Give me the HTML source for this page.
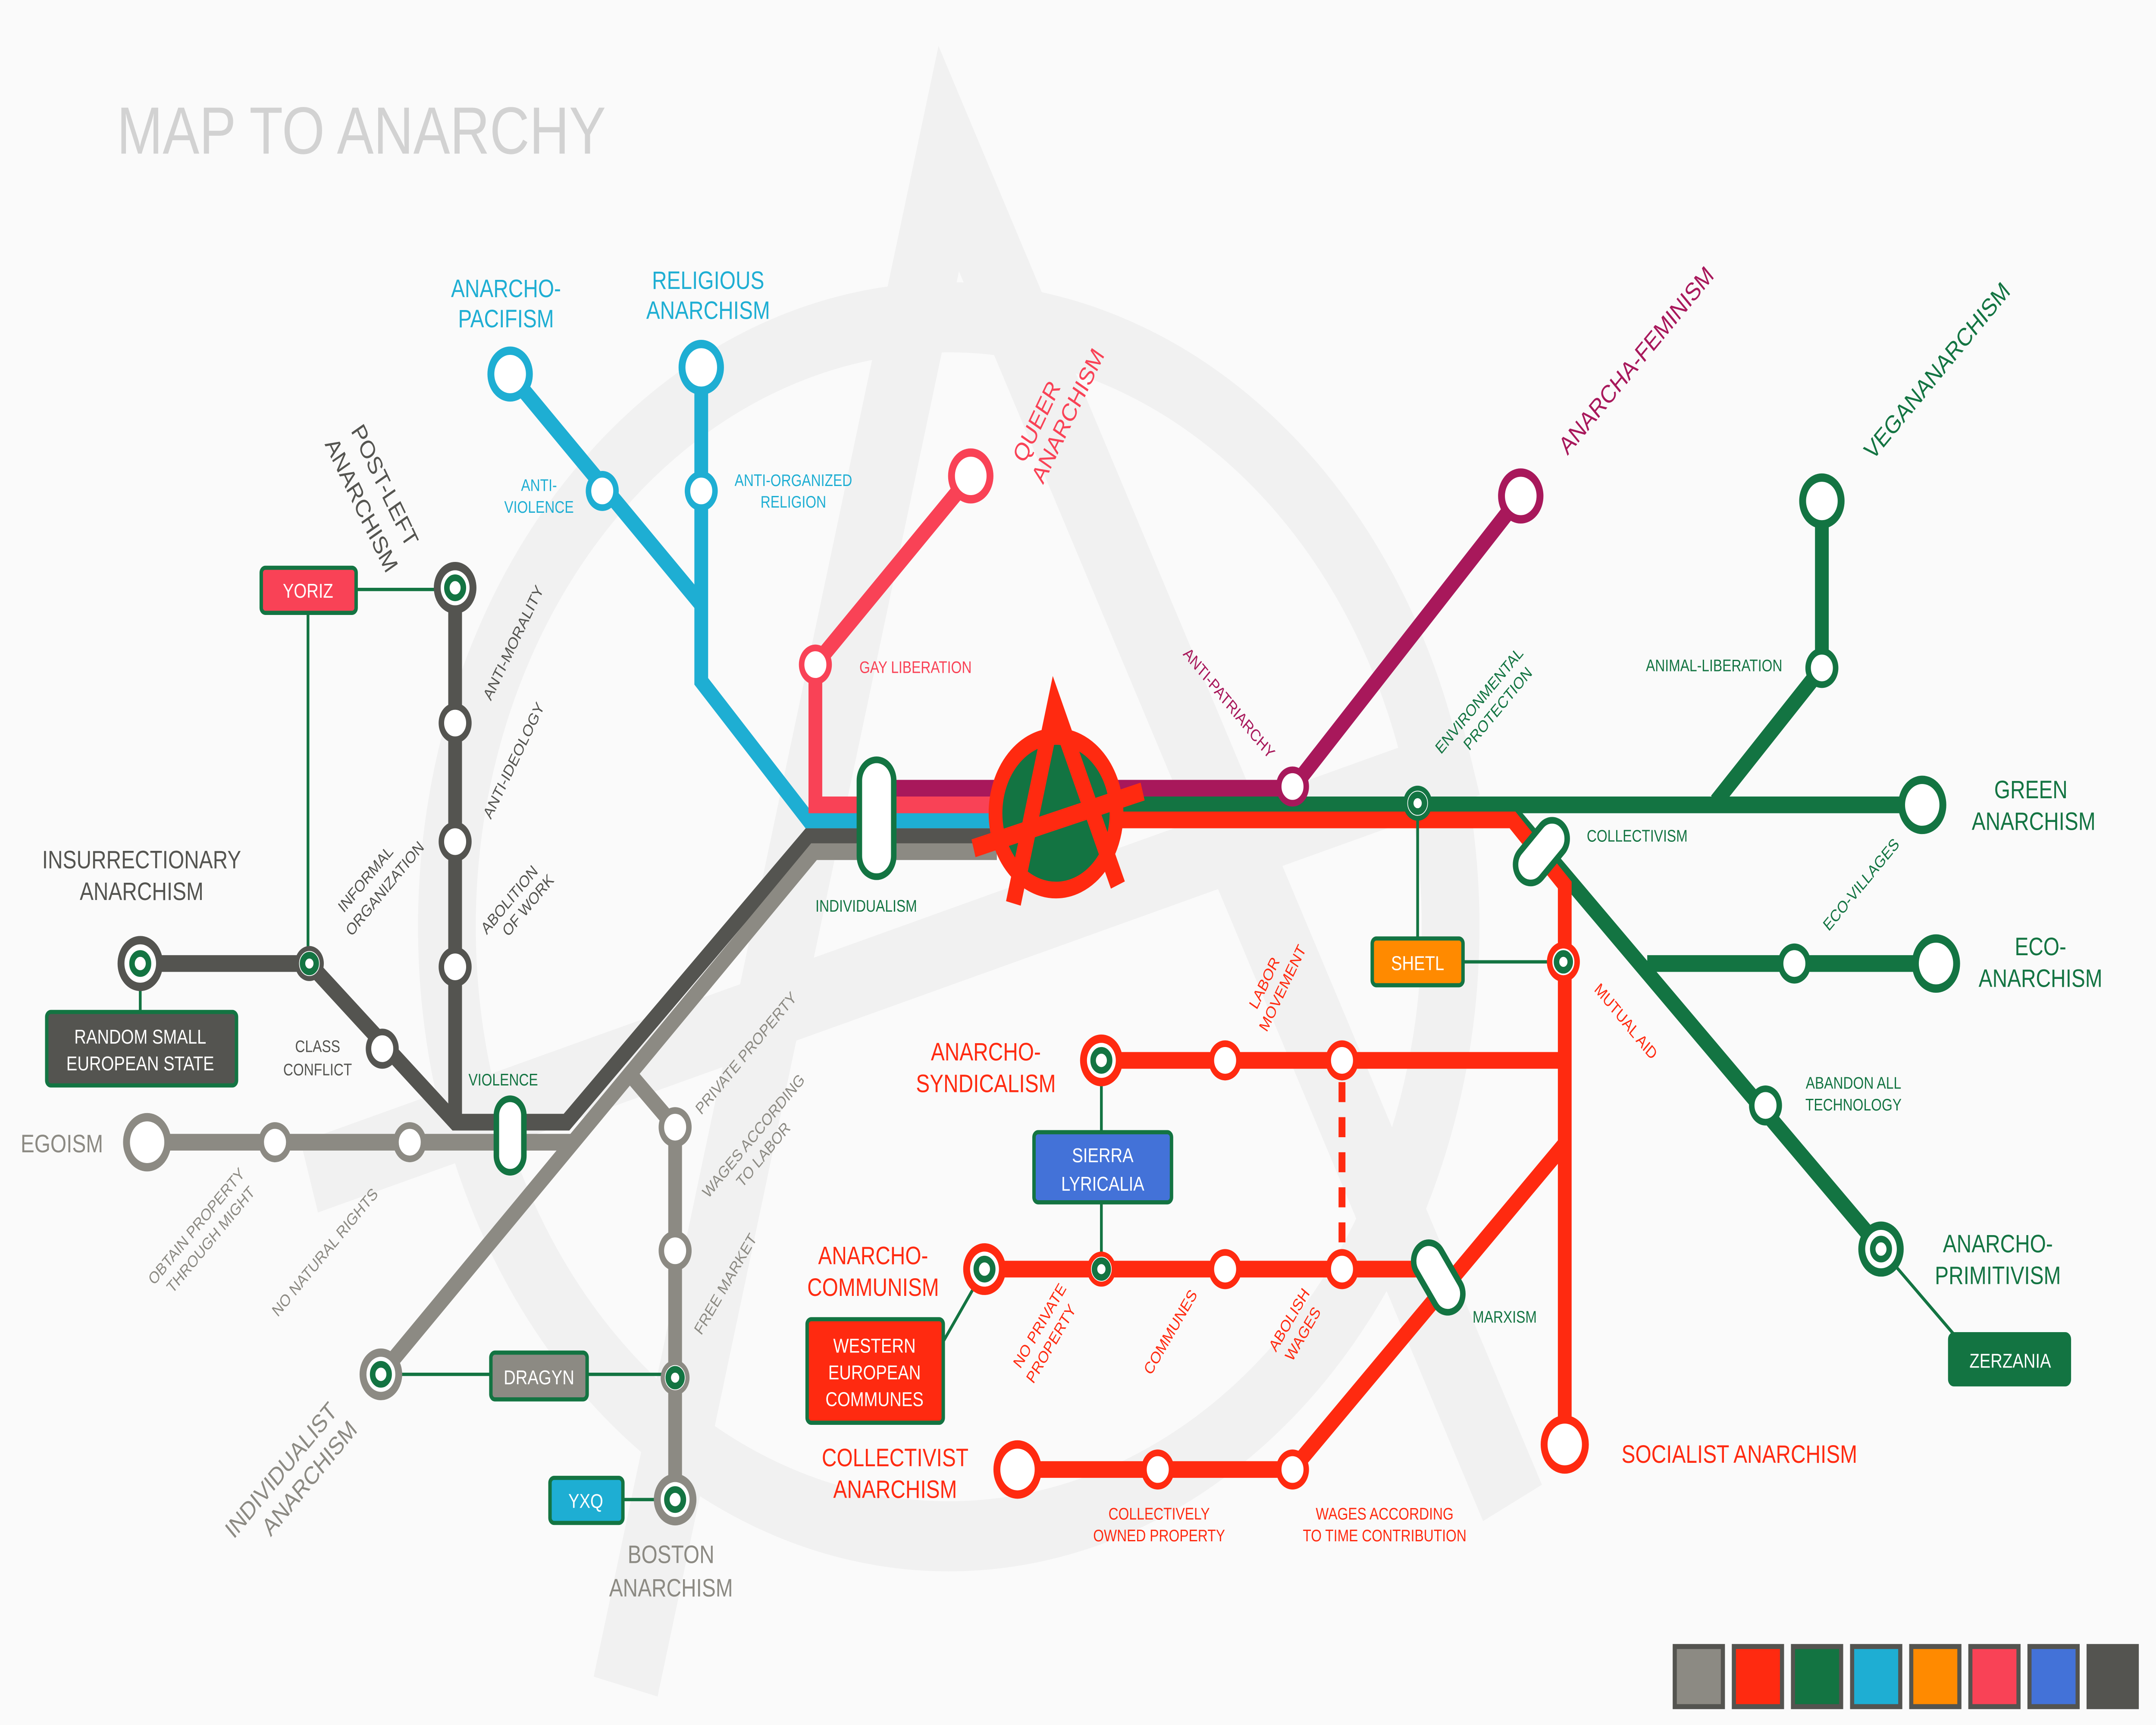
<!DOCTYPE html>
<html><head><meta charset="utf-8"><style>
html,body{margin:0;padding:0;background:#fafafa;width:100%;height:100%;overflow:hidden;}
svg{display:block;width:100vw;height:100vh;}
text{font-family:"Liberation Sans",sans-serif;}
</style></head><body>
<svg viewBox="0 0 1568 1033" preserveAspectRatio="none" xmlns="http://www.w3.org/2000/svg">
<rect width="1568" height="1033" fill="#fafafa"/>
<g fill="none" stroke="#f1f1f1">
<circle cx="690" cy="555" r="365" stroke-width="42"/>
<polyline points="455,1010 690,95 1100,900" stroke-width="48" stroke-linejoin="miter"/>
<line x1="225" y1="705" x2="1070" y2="455" stroke-width="44"/>
</g>
<text x="85" y="92" font-size="40" fill="#d2d2d2">MAP TO ANARCHY</text>

<g fill="none" stroke-width="10" stroke-linejoin="miter">
<polyline points="371,224 510,362" stroke="#1eaed3"/>
<polyline points="510,220 510,408 588,491 725,491" stroke="#1eaed3"/>
<polyline points="706,285 593,398 593,482 725,482" stroke="#f94256"/>
<polyline points="650,472 940,472 1106,297" stroke="#a8185b"/>
<polyline points="331,352 331,672" stroke="#545450"/>
<polyline points="102,577 225,577 331,672 412,672 588,501 725,501" stroke="#545450"/>
<polyline points="107,684 415,684" stroke="#8c8a83"/>
<polyline points="277,823 592,510 725,510" stroke="#8c8a83"/>
<polyline points="460,645 491,675 491,898" stroke="#8c8a83"/>
<polyline points="815,482 1400,482" stroke="#137442"/>
<polyline points="1325,300 1325,400 1248,480" stroke="#137442"/>
<polyline points="1095,482 1368,748" stroke="#137442"/>
<polyline points="1198,577 1408,577" stroke="#137442"/>
<polyline points="815,491 1100,491 1138,530 1138,865" stroke="#ff2a10"/>
<polyline points="800,635 1138,635" stroke="#ff2a10"/>
<polyline points="715,760 1045,760" stroke="#ff2a10"/>
<polyline points="740,880 940,880 1138,685" stroke="#ff2a10"/>
<line x1="976" y1="648" x2="976" y2="750" stroke="#ff2a10" stroke-width="5" stroke-dasharray="12,9"/>
</g>

<g stroke="#137442" stroke-width="2" fill="none">
<line x1="259" y1="353" x2="331" y2="353"/>
<line x1="224" y1="367" x2="224" y2="577"/>
<line x1="102" y1="577" x2="102" y2="606"/>
<line x1="277" y1="823" x2="491" y2="823"/>
<line x1="453" y1="898" x2="491" y2="898"/>
<line x1="801" y1="635" x2="801" y2="760"/>
<line x1="716" y1="760" x2="680" y2="812"/>
<line x1="1031" y1="482" x2="1031" y2="562"/>
<line x1="1064" y1="576" x2="1137" y2="576"/>
<line x1="1368" y1="748" x2="1422" y2="800"/>
</g>

<g fill="#fff" stroke="#137442" stroke-width="4">
<rect x="625" y="455" width="25" height="70" rx="12.5"/>
<rect x="361" y="658" width="20" height="44" rx="10"/>
<rect x="1110" y="488" width="22" height="44" rx="11" transform="rotate(45 1121 510)"/>
<rect x="1035" y="742" width="22" height="46" rx="11" transform="rotate(-35 1046 765)"/>
</g>

<g>
<ellipse cx="768" cy="487" rx="44" ry="46" fill="#137442" stroke="#ff2a10" stroke-width="10"/>
<polyline points="737,541 767,422 813,530" fill="none" stroke="#ff2a10" stroke-width="11"/>
<line x1="708" y1="508" x2="831" y2="474" stroke="#ff2a10" stroke-width="11"/>
</g>

<g fill="#fff" stroke-width="5">
<circle cx="371" cy="224" r="14" stroke="#1eaed3"/>
<circle cx="510" cy="220" r="14" stroke="#1eaed3"/>
<circle cx="706" cy="285" r="14" stroke="#f94256"/>
<circle cx="1106" cy="297" r="14" stroke="#a8185b"/>
<circle cx="1325" cy="300" r="14" stroke="#137442"/>
<circle cx="1398" cy="482" r="15" stroke="#137442"/>
<circle cx="1408" cy="577" r="15" stroke="#137442"/>
<circle cx="1138" cy="865" r="15" stroke="#ff2a10"/>
<circle cx="740" cy="880" r="15" stroke="#ff2a10"/>
<circle cx="107" cy="684" r="15" stroke="#8c8a83"/>
</g>
<g fill="#fff" stroke-width="4">
<circle cx="438" cy="294" r="10" stroke="#1eaed3"/>
<circle cx="510" cy="294" r="10" stroke="#1eaed3"/>
<circle cx="593" cy="398" r="10" stroke="#f94256"/>
<circle cx="940" cy="471" r="10" stroke="#a8185b"/>
<circle cx="1325" cy="400" r="10" stroke="#137442"/>
<circle cx="1305" cy="577" r="10" stroke="#137442"/>
<circle cx="1284" cy="662" r="10" stroke="#137442"/>
<circle cx="891" cy="635" r="10" stroke="#ff2a10"/>
<circle cx="976" cy="635" r="10" stroke="#ff2a10"/>
<circle cx="891" cy="760" r="10" stroke="#ff2a10"/>
<circle cx="976" cy="760" r="10" stroke="#ff2a10"/>
<circle cx="842" cy="880" r="10" stroke="#ff2a10"/>
<circle cx="940" cy="880" r="10" stroke="#ff2a10"/>
<circle cx="331" cy="433" r="10" stroke="#545450"/>
<circle cx="331" cy="504" r="10" stroke="#545450"/>
<circle cx="331" cy="579" r="10" stroke="#545450"/>
<circle cx="278" cy="628" r="10" stroke="#545450"/>
<circle cx="200" cy="684" r="10" stroke="#8c8a83"/>
<circle cx="298" cy="684" r="10" stroke="#8c8a83"/>
<circle cx="491" cy="675" r="10" stroke="#8c8a83"/>
<circle cx="491" cy="749" r="10" stroke="#8c8a83"/>
</g>
<g fill="#fff">
<circle cx="331" cy="352" r="13" stroke="#545450" stroke-width="5"/><circle cx="331" cy="352" r="6" stroke="#137442" stroke-width="4"/>
<circle cx="102" cy="577" r="14" stroke="#545450" stroke-width="5"/><circle cx="102" cy="577" r="6" stroke="#137442" stroke-width="4"/>
<circle cx="225" cy="577" r="9" stroke="#545450" stroke-width="3"/><circle cx="225" cy="577" r="5" stroke="#137442" stroke-width="4"/>
<circle cx="801" cy="635" r="13" stroke="#ff2a10" stroke-width="5"/><circle cx="801" cy="635" r="6" stroke="#137442" stroke-width="4"/>
<circle cx="801" cy="760" r="9" stroke="#ff2a10" stroke-width="3"/><circle cx="801" cy="760" r="5" stroke="#137442" stroke-width="4"/>
<circle cx="716" cy="760" r="13" stroke="#ff2a10" stroke-width="5"/><circle cx="716" cy="760" r="6" stroke="#137442" stroke-width="4"/>
<circle cx="1031" cy="481" r="9" stroke="#137442" stroke-width="3"/><circle cx="1031" cy="481" r="5" stroke="#137442" stroke-width="4"/>
<circle cx="1137" cy="576" r="10" stroke="#ff2a10" stroke-width="4"/><circle cx="1137" cy="576" r="5" stroke="#137442" stroke-width="4"/>
<circle cx="1368" cy="748" r="14" stroke="#137442" stroke-width="5"/><circle cx="1368" cy="748" r="6" stroke="#137442" stroke-width="4"/>
<circle cx="277" cy="823" r="13" stroke="#8c8a83" stroke-width="5"/><circle cx="277" cy="823" r="6" stroke="#137442" stroke-width="4"/>
<circle cx="491" cy="825" r="9" stroke="#8c8a83" stroke-width="3"/><circle cx="491" cy="825" r="5" stroke="#137442" stroke-width="4"/>
<circle cx="491" cy="898" r="13" stroke="#8c8a83" stroke-width="5"/><circle cx="491" cy="898" r="6" stroke="#137442" stroke-width="4"/>
</g>

<g stroke="#137442" stroke-width="2.5">
<rect x="190" y="340" width="69" height="27" rx="3" fill="#f94256"/>
<rect x="34" y="606" width="138" height="44" rx="3" fill="#545450"/>
<rect x="357" y="810" width="70" height="28" rx="3" fill="#8c8a83"/>
<rect x="400" y="885" width="53" height="27" rx="3" fill="#1eaed3"/>
<rect x="752" y="678" width="100" height="42" rx="3" fill="#4372d8"/>
<rect x="587" y="790" width="99" height="62" rx="3" fill="#ff2a10"/>
<rect x="998" y="562" width="66" height="28" rx="3" fill="#ff8a00"/>
<rect x="1418" y="799" width="87" height="30" rx="3" fill="#137442"/>
</g>
<g fill="#fff" font-size="12" text-anchor="middle">
<text x="224" y="358">YORIZ</text>
<text x="102" y="625">RANDOM SMALL</text><text x="102" y="641">EUROPEAN STATE</text>
<text x="392" y="829">DRAGYN</text>
<text x="426" y="903">YXQ</text>
<text x="802" y="696">SIERRA</text><text x="802" y="713">LYRICALIA</text>
<text x="636" y="810">WESTERN</text><text x="636" y="826">EUROPEAN</text><text x="636" y="842">COMMUNES</text>
<text x="1031" y="581">SHETL</text>
<text x="1462" y="819">ZERZANIA</text>
</g>

<g font-size="15" text-anchor="middle">
<text x="368" y="178" fill="#1eaed3">ANARCHO-</text><text x="368" y="196" fill="#1eaed3">PACIFISM</text>
<text x="515" y="173" fill="#1eaed3">RELIGIOUS</text><text x="515" y="191" fill="#1eaed3">ANARCHISM</text>
<text x="103" y="520" fill="#545450">INSURRECTIONARY</text><text x="103" y="539" fill="#545450">ANARCHISM</text>
<text x="45" y="690" fill="#8c8a83">EGOISM</text>
<text x="488" y="936" fill="#8c8a83">BOSTON</text><text x="488" y="956" fill="#8c8a83">ANARCHISM</text>
<text x="717" y="635" fill="#ff2a10">ANARCHO-</text><text x="717" y="654" fill="#ff2a10">SYNDICALISM</text>
<text x="635" y="757" fill="#ff2a10">ANARCHO-</text><text x="635" y="776" fill="#ff2a10">COMMUNISM</text>
<text x="651" y="878" fill="#ff2a10">COLLECTIVIST</text><text x="651" y="897" fill="#ff2a10">ANARCHISM</text>
<text x="1265" y="876" fill="#ff2a10">SOCIALIST ANARCHISM</text>
<text x="1477" y="478" fill="#137442">GREEN</text><text x="1479" y="497" fill="#137442">ANARCHISM</text>
<text x="1484" y="572" fill="#137442">ECO-</text><text x="1484" y="591" fill="#137442">ANARCHISM</text>
<text x="1453" y="750" fill="#137442">ANARCHO-</text><text x="1453" y="769" fill="#137442">PRIMITIVISM</text>
</g>
<g font-size="15">
<text transform="translate(255,258) rotate(60)" fill="#545450">POST-LEFT</text>
<text transform="translate(236,266) rotate(60)" fill="#545450">ANARCHISM</text>
<text transform="translate(745,278) rotate(-60)" fill="#f94256">QUEER</text>
<text transform="translate(745,278) rotate(-60) translate(-4,18)" fill="#f94256">ANARCHISM</text>
<text transform="translate(1140,273) rotate(-45)" fill="#a8185b">ANARCHA-FEMINISM</text>
<text transform="translate(1362,276) rotate(-45)" fill="#137442">VEGANANARCHISM</text>
<text transform="translate(170,922) rotate(-45)" fill="#8c8a83">INDIVIDUALIST</text>
<text transform="translate(170,922) rotate(-45) translate(20,18)" fill="#8c8a83">ANARCHISM</text>
</g>

<g font-size="10">
<text x="392" y="294" fill="#1eaed3" text-anchor="middle">ANTI-</text><text x="392" y="307" fill="#1eaed3" text-anchor="middle">VIOLENCE</text>
<text x="577" y="291" fill="#1eaed3" text-anchor="middle">ANTI-ORGANIZED</text><text x="577" y="304" fill="#1eaed3" text-anchor="middle">RELIGION</text>
<text x="625" y="403" fill="#f94256">GAY LIBERATION</text>
<text transform="translate(860,392) rotate(45)" fill="#a8185b">ANTI-PATRIARCHY</text>
<text transform="translate(1048,452) rotate(-45)" fill="#137442">ENVIRONMENTAL</text>
<text transform="translate(1048,452) rotate(-45) translate(16,13)" fill="#137442">PROTECTION</text>
<text x="1197" y="402" fill="#137442">ANIMAL-LIBERATION</text>
<text x="1154" y="504" fill="#137442">COLLECTIVISM</text>
<text transform="translate(1330,558) rotate(-45)" fill="#137442">ECO-VILLAGES</text>
<text x="1348" y="652" fill="#137442" text-anchor="middle">ABANDON ALL</text><text x="1348" y="665" fill="#137442" text-anchor="middle">TECHNOLOGY</text>
<text x="1071" y="792" fill="#137442">MARXISM</text>
<text transform="translate(1159,593) rotate(45)" fill="#ff2a10">MUTUAL AID</text>
<text transform="translate(914,605) rotate(-60)" fill="#ff2a10">LABOR</text>
<text transform="translate(914,605) rotate(-60) translate(-8,13)" fill="#ff2a10">MOVEMENT</text>
<text transform="translate(742,820) rotate(-55)" fill="#ff2a10">NO PRIVATE</text>
<text transform="translate(742,820) rotate(-55) translate(-2,13)" fill="#ff2a10">PROPERTY</text>
<text transform="translate(837,824) rotate(-55)" fill="#ff2a10">COMMUNES</text>
<text transform="translate(928,810) rotate(-55)" fill="#ff2a10">ABOLISH</text>
<text transform="translate(928,810) rotate(-55) translate(2,13)" fill="#ff2a10">WAGES</text>
<text x="843" y="910" fill="#ff2a10" text-anchor="middle">COLLECTIVELY</text><text x="843" y="923" fill="#ff2a10" text-anchor="middle">OWNED PROPERTY</text>
<text x="1007" y="910" fill="#ff2a10" text-anchor="middle">WAGES ACCORDING</text><text x="1007" y="923" fill="#ff2a10" text-anchor="middle">TO TIME CONTRIBUTION</text>
<text x="630" y="546" fill="#137442" text-anchor="middle">INDIVIDUALISM</text>
<text x="366" y="650" fill="#137442" text-anchor="middle">VIOLENCE</text>
<text x="231" y="630" fill="#545450" text-anchor="middle">CLASS</text><text x="231" y="644" fill="#545450" text-anchor="middle">CONFLICT</text>
<text transform="translate(357,420) rotate(-60)" fill="#545450">ANTI-MORALITY</text>
<text transform="translate(357,491) rotate(-60)" fill="#545450">ANTI-IDEOLOGY</text>
<text transform="translate(354,560) rotate(-45)" fill="#545450">ABOLITION</text>
<text transform="translate(354,560) rotate(-45) translate(10,12)" fill="#545450">OF WORK</text>
<text transform="translate(250,547) rotate(-45)" fill="#545450">INFORMAL</text>
<text transform="translate(250,547) rotate(-45) translate(-6,14)" fill="#545450">ORGANIZATION</text>
<text transform="translate(510,668) rotate(-45)" fill="#8c8a83">PRIVATE PROPERTY</text>
<text transform="translate(515,718) rotate(-45)" fill="#8c8a83">WAGES ACCORDING</text>
<text transform="translate(515,718) rotate(-45) translate(22,13)" fill="#8c8a83">TO LABOR</text>
<text transform="translate(510,800) rotate(-55)" fill="#8c8a83">FREE MARKET</text>
<text transform="translate(202,789) rotate(-45)" fill="#8c8a83">NO NATURAL RIGHTS</text>
<text transform="translate(112,770) rotate(-45)" fill="#8c8a83">OBTAIN PROPERTY</text>
<text transform="translate(112,770) rotate(-45) translate(6,13)" fill="#8c8a83">THROUGH MIGHT</text>
</g>

<g stroke="#545450" stroke-width="3">
<rect x="1218" y="986" width="35" height="36" fill="#8c8a83"/>
<rect x="1261" y="986" width="35" height="36" fill="#ff2a10"/>
<rect x="1304" y="986" width="35" height="36" fill="#137442"/>
<rect x="1347" y="986" width="35" height="36" fill="#1eaed3"/>
<rect x="1390" y="986" width="35" height="36" fill="#ff8a00"/>
<rect x="1433" y="986" width="35" height="36" fill="#f94256"/>
<rect x="1476" y="986" width="35" height="36" fill="#4372d8"/>
<rect x="1519" y="986" width="35" height="36" fill="#545450"/>
</g>
</svg>
</body></html>
